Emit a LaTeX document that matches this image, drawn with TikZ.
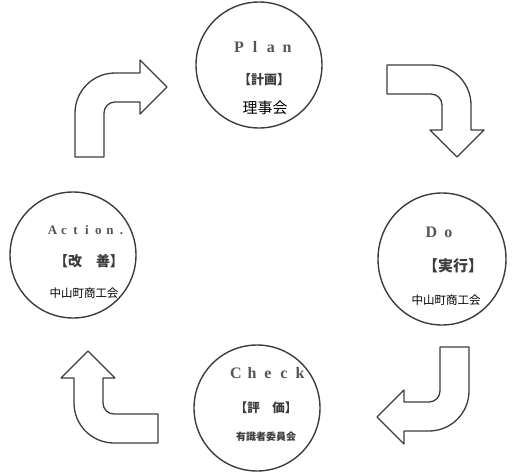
\documentclass[tikz,border=0pt]{standalone}
\usepackage{fontspec}
\usetikzlibrary{shapes.geometric}
\setmainfont{Liberation Serif}
\newfontfamily\jp{Noto Sans CJK JP}
\newcommand\lc[2][15pt]{\makebox[#1]{#2}}
\definecolor{ink}{HTML}{3C3C3C}
\definecolor{soft}{HTML}{555555}
\tikzset{
  phase/.style={circle, draw=ink, line width=1.4pt, minimum size=126pt, inner sep=0pt},
  lat/.style={text=soft, font=\fontsize{16}{16}\selectfont\bfseries, inner sep=0pt},
  jpb/.style={text=ink, font=\jp\fontsize{13}{13}\selectfont\bfseries, inner sep=0pt},
  jpr/.style={text=black, font=\jp\fontsize{15}{15}\selectfont, inner sep=0pt},
  jps/.style={text=black, font=\jp\fontsize{11.5}{11.5}\selectfont, inner sep=0pt},
  bent/.style={draw=ink, line width=1.3pt, fill=white, line join=round},
}
\newcommand\bentarrow{%
  (0,0) -- (-27,-27) -- (-27,-14) -- (-52,-14)
  arc[start angle=-90, end angle=-180, radius=40]
  -- (-92,70) -- (-63,70) -- (-63,26)
  arc[start angle=180, end angle=270, radius=11]
  -- (-27,15) -- (-27,27) -- cycle}
\begin{document}
\begin{tikzpicture}[x=1pt, y=-1pt]
\useasboundingbox (0,0) rectangle (523,474);
\fill[white] (0,0) rectangle (523,474);

% circles
\node[phase] (plan) at (259,65) {};
\node[phase, ellipse, minimum width=128pt, minimum height=132pt] (do) at (442,259) {};
\node[phase] (check) at (257,408) {};
\node[phase] (act) at (73,255) {};

% Plan
\node[lat] (plant) at (263,47) {\lc[16pt]{P}\lc[16pt]{l}\lc[16pt]{a}\lc[16pt]{n}};
\node[jpb] (planj) at (264,80) {【計画】};
\node[jpr] (planr) at (265,108) {理事会};

% Do
\node[lat] (dot) at (440,232) {\lc[17pt]{D}\lc[17pt]{o}};
\node[jpb, font=\jp\fontsize{15}{15}\selectfont\bfseries] (doj) at (453,266) {【実行】};
\node[jps] (dor) at (446,300) {中山町商工会};

% Check
\node[lat] (checkt) at (268,373) {\lc[16pt]{C}\lc[16pt]{h}\lc[16pt]{e}\lc[16pt]{c}\lc[16pt]{k}};
\node[jpb, font=\jp\fontsize{12.5}{12.5}\selectfont\bfseries] (checkj) at (266,408) {【評\hspace{1em}価】};
\node[jps, font=\jp\fontsize{10}{10}\selectfont\bfseries, text=ink] (checkr) at (266,437) {有識者委員会};

% Action
\node[lat, font=\fontsize{13}{13}\selectfont\bfseries] (actt) at (87,230) {\lc[11.5pt]{A}\lc[11.5pt]{c}\lc[11.5pt]{t}\lc[11.5pt]{i}\lc[11.5pt]{o}\lc[11.5pt]{n}\lc[11.5pt]{.}};
\node[jpb, font=\jp\fontsize{14}{14}\selectfont\bfseries] (actj) at (89,261) {【改\hspace{1em}善】};
\node[jps] (actr) at (84,293) {中山町商工会};

% bent arrows
\begin{scope}[shift={(167,87)}]
  \draw[bent] \bentarrow;
\end{scope}
\begin{scope}[shift={(457,157)}, rotate=-90]
  \draw[bent] \bentarrow;
\end{scope}
\begin{scope}[shift={(377,417)}, rotate=180]
  \draw[bent] \bentarrow;
\end{scope}
\begin{scope}[shift={(88,351)}, rotate=90]
  \draw[bent] \bentarrow;
\end{scope}
\end{tikzpicture}
\end{document}
